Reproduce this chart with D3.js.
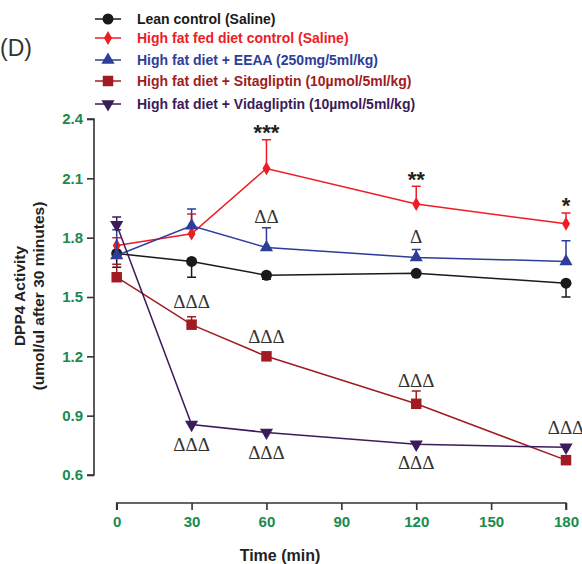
<!DOCTYPE html>
<html>
<head>
<meta charset="utf-8">
<script src="https://cdn.jsdelivr.net/npm/d3@7"></script>
<style>
  body { margin: 0; background: #fff; }
  svg { display: block; font-family: "Liberation Sans", Arial, sans-serif; }
  .tick text { fill: #1b8a4c; font-weight: bold; font-size: 15px; }
  .leg text { font-weight: bold; font-size: 14px; }
  .delta { font-family: "Liberation Serif", "DejaVu Serif", serif; font-size: 19px; fill: #333; }
  .star { font-weight: bold; font-size: 22px; fill: #222; }
</style>
</head>
<body>
<svg id="chart" width="582" height="564"></svg>
<script>
// time points (min)
const times = [0, 30, 60, 120, 180];

// series: means + SEM (error drawn one side only, like the figure)
const seriesNames = [
  'Lean control (Saline)',
  'High fat fed diet control (Saline)',
  'High fat diet + EEAA (250mg/5ml/kg)',
  'High fat diet + Sitagliptin (10\u00b5mol/5ml/kg)',
  'High fat diet + Vidagliptin (10\u00b5mol/5ml/kg)'
];
const leanMean = [1.72, 1.68, 1.61, 1.62, 1.57];
const leanErr = [0.07, 0.08, 0.02, 0.01, 0.07];
const hfdMean = [1.76, 1.82, 2.15, 1.97, 1.87];
const hfdErr = [0.04, 0.10, 0.145, 0.09, 0.055];
const eeaaMean = [1.71, 1.86, 1.75, 1.70, 1.68];
const eeaaErr = [0.13, 0.085, 0.10, 0.04, 0.105];
const sitaMean = [1.60, 1.36, 1.20, 0.96, 0.675];
const sitaErr = [0.065, 0.04, 0.01, 0.065, 0.01];
const vidaMean = [1.865, 0.855, 0.815, 0.755, 0.74];
const vidaErr = [0.04, 0.01, 0.01, 0.01, 0.01];
const errDir = [-1, 1, 1, 1, 1];   // -1 = bar drawn downward

const colors = ['#1a1a1a', '#ee1c25', '#2e3d99', '#a01c22', '#3b1c5a'];
const symbols = ['circle', 'diamond', 'triangle', 'square', 'triangleDown'];

const yTicks = [0.6, 0.9, 1.2, 1.5, 1.8, 2.1, 2.4];
const xTicks = [0, 30, 60, 90, 120, 150, 180];

// significance marks: [time, value position, label]
const starMarks = [[60, 2.36, '***'], [120, 2.12, '**'], [180, 1.99, '*']];
const deltaMarks = [
  [60, 1.905, '\u0394\u0394'], [120, 1.805, '\u0394'],
  [30, 1.475, '\u0394\u0394\u0394'], [60, 1.298, '\u0394\u0394\u0394'],
  [120, 1.08, '\u0394\u0394\u0394'], [180, 0.838, '\u0394\u0394\u0394'],
  [30, 0.752, '\u0394\u0394\u0394'], [60, 0.716, '\u0394\u0394\u0394'],
  [120, 0.661, '\u0394\u0394\u0394']
];

const means = [leanMean, hfdMean, eeaaMean, sitaMean, vidaMean];
const errs = [leanErr, hfdErr, eeaaErr, sitaErr, vidaErr];

const svg = d3.select('#chart');
const x = d3.scaleLinear().domain([0, 180]).range([116.7, 566]);
const y = d3.scaleLinear().domain([0.6, 2.4]).range([475, 119]);

// axes
const yAxis = svg.append('g').attr('transform', 'translate(94,0)')
  .call(d3.axisLeft(y).tickValues(yTicks).tickFormat(d3.format('.1f')).tickSize(7).tickPadding(4));
const xAxis = svg.append('g').attr('transform', 'translate(0,503)')
  .call(d3.axisBottom(x).tickValues(xTicks).tickFormat(d3.format('d')).tickSize(7).tickPadding(6));
[yAxis, xAxis].forEach((a) => {
  a.select('.domain').attr('stroke', '#333').attr('stroke-width', 1.6);
  a.selectAll('.tick line').attr('stroke', '#333').attr('stroke-width', 1.6);
});
yAxis.select('.domain').attr('d', `M-7,${y(0.6)}H0V${y(2.4)}H-7`);
xAxis.select('.domain').attr('d', `M${x(0)},7V0H${x(180)}V7`);

// axis titles
svg.append('text').attr('x', 280).attr('y', 561)
  .attr('text-anchor', 'middle').attr('font-weight', 'bold').attr('font-size', 16).attr('fill', '#222')
  .text('Time (min)');
const yt = svg.append('g').attr('transform', 'translate(0,296) rotate(-90)');
yt.append('text').attr('x', 0).attr('y', 25).attr('text-anchor', 'middle')
  .attr('font-weight', 'bold').attr('font-size', 15.5).attr('fill', '#222').text('DPP4 Activity');
yt.append('text').attr('x', 0).attr('y', 44).attr('text-anchor', 'middle')
  .attr('font-weight', 'bold').attr('font-size', 15.5).attr('fill', '#222').text('(umol/ul after 30 minutes)');

svg.append('text').attr('x', 0).attr('y', 56).attr('font-size', 23).attr('fill', '#333').text('(D)');

function symbolPath(kind) {
  const sym = {
    circle: d3.symbol(d3.symbolCircle, 95),
    diamond: d3.symbol(d3.symbolDiamond, 55),
    triangle: d3.symbol(d3.symbolTriangle, 75),
    square: d3.symbol(d3.symbolSquare, 110),
    triangleDown: d3.symbol(d3.symbolTriangle, 75)
  }[kind];
  return sym();
}

const line = d3.line().x((d) => x(d.t)).y((d) => y(d.v));
const plot = svg.append('g');

means.forEach((m, i) => {
  const pts = times.map((t, j) => ({ t, v: m[j], e: errs[i][j] }));
  const g = plot.append('g');
  g.append('path').datum(pts).attr('d', line)
    .attr('fill', 'none').attr('stroke', colors[i]).attr('stroke-width', 1.5);
  // error bars
  g.selectAll('path.err').data(pts).join('path').attr('class', 'err')
    .attr('d', (d) => {
      const y0 = y(d.v), y1 = y(d.v + errDir[i] * d.e), xx = x(d.t);
      return `M${xx},${y0}V${y1}M${xx - 4.5},${y1}H${xx + 4.5}`;
    })
    .attr('stroke', colors[i]).attr('stroke-width', 1.5).attr('fill', 'none');
  g.selectAll('path.mk').data(pts).join('path').attr('class', 'mk')
    .attr('d', symbolPath(symbols[i]))
    .attr('transform', (d) => `translate(${x(d.t)},${y(d.v)})` + (symbols[i] === 'triangleDown' ? ' rotate(180)' : ''))
    .attr('fill', colors[i]);
});

// significance labels
svg.selectAll('text.star').data(starMarks).join('text').attr('class', 'star')
  .attr('x', (d) => x(d[0])).attr('y', (d) => y(d[1]) + 13).attr('text-anchor', 'middle').text((d) => d[2]);
svg.selectAll('text.delta').data(deltaMarks).join('text').attr('class', 'delta')
  .attr('x', (d) => x(d[0])).attr('y', (d) => y(d[1]) + 6.5).attr('text-anchor', 'middle').text((d) => d[2]);

// legend
const legRows = [19, 38, 60, 81, 104];
const leg = svg.append('g').attr('class', 'leg');
seriesNames.forEach((name, i) => {
  const r = leg.append('g').attr('transform', `translate(0,${legRows[i]})`);
  r.append('line').attr('x1', 95).attr('x2', 121).attr('stroke', colors[i]).attr('stroke-width', 1.5);
  r.append('path').attr('d', symbolPath(symbols[i]))
    .attr('transform', 'translate(108,0)' + (symbols[i] === 'triangleDown' ? ' rotate(180)' : ''))
    .attr('fill', colors[i]);
  r.append('text').attr('x', 137).attr('y', 5).attr('fill', colors[i]).text(name);
});
</script>
</body>
</html>
